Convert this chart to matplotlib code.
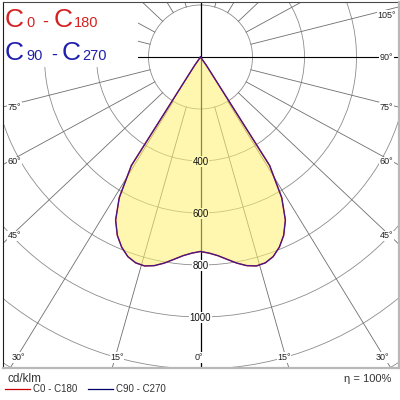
import numpy as np
import matplotlib
matplotlib.use('Agg')
import matplotlib.pyplot as plt
from matplotlib.patches import Circle, Rectangle
from matplotlib.colors import to_rgb

plt.rcParams['font.family'] = ['Liberation Sans', 'DejaVu Sans']

# ---------------- data (cd/klm) ----------------
gamma = [0, 2.5, 5, 7.5, 10, 12.5, 15, 17.5, 20, 22.5, 25, 27.5, 30, 32.5,
         35, 37.5, 40, 45, 50, 55, 60, 65, 70, 75, 80, 85, 90]
c0_c180 = [748, 755, 767, 785, 805, 822, 832, 830, 817, 792, 757, 707, 625, 495,
           40, 0, 0, 0, 0, 0, 0, 0, 0, 0, 0, 0, 0]
c90_c270 = [748, 755, 767, 785, 805, 822, 832, 830, 817, 792, 757, 707, 625, 495,
            40, 0, 0, 0, 0, 0, 0, 0, 0, 0, 0, 0, 0]
circle_values = [200, 400, 600, 800, 1000, 1200, 1400]
value_labels = [400, 600, 800, 1000]
angle_ticks = [15, 30, 45, 60, 75, 105, 120, 135, 150, 165]
right_angle_labels = [0, 15, 30, 45, 60, 75, 90, 105]
left_angle_labels = [15, 30, 45, 60, 75]
series_names = ['C0 - C180', 'C90 - C270']
unit_label = 'cd/klm'
eff_label = 'η = 100%'

# ---------------- layout ----------------
W = H = 400
OX, OY = 200.5, 57.0          # luminaire centre (px)
S = 0.26                      # px per cd/klm
FL, FR, FT, FB = 2.5, 398.5, 2.0, 368.0
K = 1.06                      # slight stretch of the angle rays as in reference

fill_col, fill_alpha = '#fff26e', 0.55
blend = tuple(fill_alpha * np.array(to_rgb(fill_col)) + (1 - fill_alpha) * np.ones(3))

fig = plt.figure(figsize=(4, 4), dpi=100)
ax = fig.add_axes([FL / W, 1 - FB / H, (FR - FL) / W, (FB - FT) / H])
ax.set_xlim((FL - OX) / S, (FR - OX) / S)
ax.set_ylim(-(FB - OY) / S, (OY - FT) / S)
ax.axis('off')

grid_c = '#8c8c8c'
for v in circle_values:
    ax.add_patch(Circle((0, 0), v, fill=False, ec=grid_c, lw=0.6, zorder=1))
for gd in angle_ticks:
    gr = np.radians(gd)
    for side in (-1, 1):
        d = np.array([side * K * np.sin(gr), -np.cos(gr)])
        d /= np.hypot(*d)
        p0 = d * circle_values[0]
        p1 = d * 4000
        ax.plot([p0[0], p1[0]], [p0[1], p1[1]], color='#6e6e6e', lw=0.6, zorder=1)
ax.plot([0, 0], [-4000, 4000], color='black', lw=0.9, zorder=1.5)
ax.plot([-4000, 4000], [0, 0], color='black', lw=0.8, zorder=1.5)

# legend box (white, covers grid in the corner)
x0, y0 = (FL - OX) / S, (OY - FT) / S
x1, y1 = (138 - OX) / S, (OY - 67) / S
ax.add_patch(Rectangle((x0, y1), x1 - x0, y0 - y1, fc='white', ec='none', zorder=3))

# ---------------- light distribution ----------------
g = np.radians(np.array(gamma))
def curve(vals):
    I = np.array(vals, dtype=float)
    xl, yl = -I[::-1] * np.sin(g[::-1]), -I[::-1] * np.cos(g[::-1])
    xr, yr = I[1:] * np.sin(g[1:]), -I[1:] * np.cos(g[1:])
    return np.concatenate([xl, xr]), np.concatenate([yl, yr])

xa, ya = curve(c0_c180)
xb, yb = curve(c90_c270)
ax.fill(xa, ya, color=fill_col, alpha=fill_alpha, lw=0, zorder=4)
ax.plot(xa, ya, color='#c02040', lw=1.1, zorder=6)
ax.plot(xb, yb, color='#2a1a90', lw=0.7, zorder=7)

# value labels on the nadir axis
for v in value_labels:
    inside = v < c0_c180[0]
    ax.text(0, -v - 2, str(v), ha='center', va='center', fontsize=7, color='#111111',
            bbox=dict(fc=blend if inside else 'white', ec='none', pad=0.5), zorder=8)

# ---------------- overlay in pixel coordinates ----------------
ov = fig.add_axes([0, 0, 1, 1])
ov.set_xlim(0, W)
ov.set_ylim(H, 0)
ov.axis('off')

def label_pos(gdeg, side):
    gr = np.radians(gdeg)
    dx, dy = K * np.sin(gr), np.cos(gr)
    cand = []
    if dx > 1e-9:
        cand.append((186.0 / dx, 'side'))
    if dy > 1e-9:
        cand.append(((357.0 - OY) / dy, 'bottom'))
    t = min(c[0] for c in cand)
    return OX + side * dx * t, OY + dy * t, min(cand)[1]

lab_kw = dict(ha='center', va='center', fontsize=6.5, color='#222222',
              bbox=dict(fc='white', ec='none', pad=0.4), zorder=10)
for side, labs in ((1, right_angle_labels), (-1, left_angle_labels)):
    for gdeg in labs:
        px, py, where = label_pos(gdeg, side)
        if where == 'side':
            py = max(py + 3.5, 15.0) if gdeg != 90 else py
        else:
            py = py + 0.5
        ov.text(px - side * 1.5 if where == 'bottom' else px, py, f'{gdeg}°', **lab_kw)

# frame (sunken look)
ov.plot([FL, FL], [FT, FB], color='#1e1e1e', lw=0.8, zorder=20)
ov.plot([FL, FR], [FT, FT], color='#4a4a4a', lw=0.8, zorder=20)
ov.plot([FL, FR + 0.7], [FB, FB], color='#b8b8b8', lw=1.6, zorder=20)
ov.plot([FR, FR], [FT, FB], color='#b8b8b8', lw=1.6, zorder=20)

# header C-plane legend
red, blue = '#d42222', '#1f1fae'
big, small, mid = 19, 10.5, 13
tk = dict(va='baseline', ha='left', zorder=12)
ov.text(5.0, 26.7, 'C', fontsize=big, color=red, **tk)
ov.text(26.5, 26.7, '0', fontsize=small, color=red, **tk)
ov.text(42.5, 26.7, '-', fontsize=mid, color=red, **tk)
ov.text(53.5, 26.7, 'C', fontsize=big, color=red, **tk)
ov.text(74.0, 26.7, '180', fontsize=small, color=red, **tk)

ov.text(5.0, 60.0, 'C', fontsize=big, color=blue, **tk)
ov.text(26.5, 60.0, '90', fontsize=small, color=blue, **tk)
ov.text(51.5, 60.0, '-', fontsize=mid, color=blue, **tk)
ov.text(61.5, 60.0, 'C', fontsize=big, color=blue, **tk)
ov.text(82.0, 60.0, '270', fontsize=small, color=blue, **tk)

# bottom legend
ov.text(7.5, 379.5, unit_label, fontsize=8.5, color='#333333', ha='left', va='center')
ov.plot([5, 30], [388.8, 388.8], color='#cc0000', lw=0.9)
ov.text(33, 389, series_names[0], fontsize=7, color='#333333', ha='left', va='center')
ov.plot([88, 113], [388.8, 388.8], color='#000066', lw=0.9)
ov.text(116, 389, series_names[1], fontsize=7, color='#333333', ha='left', va='center')
ov.text(391, 378.5, eff_label, fontsize=8, color='#333333', ha='right', va='center')

fig.savefig('out.png', dpi=100)
